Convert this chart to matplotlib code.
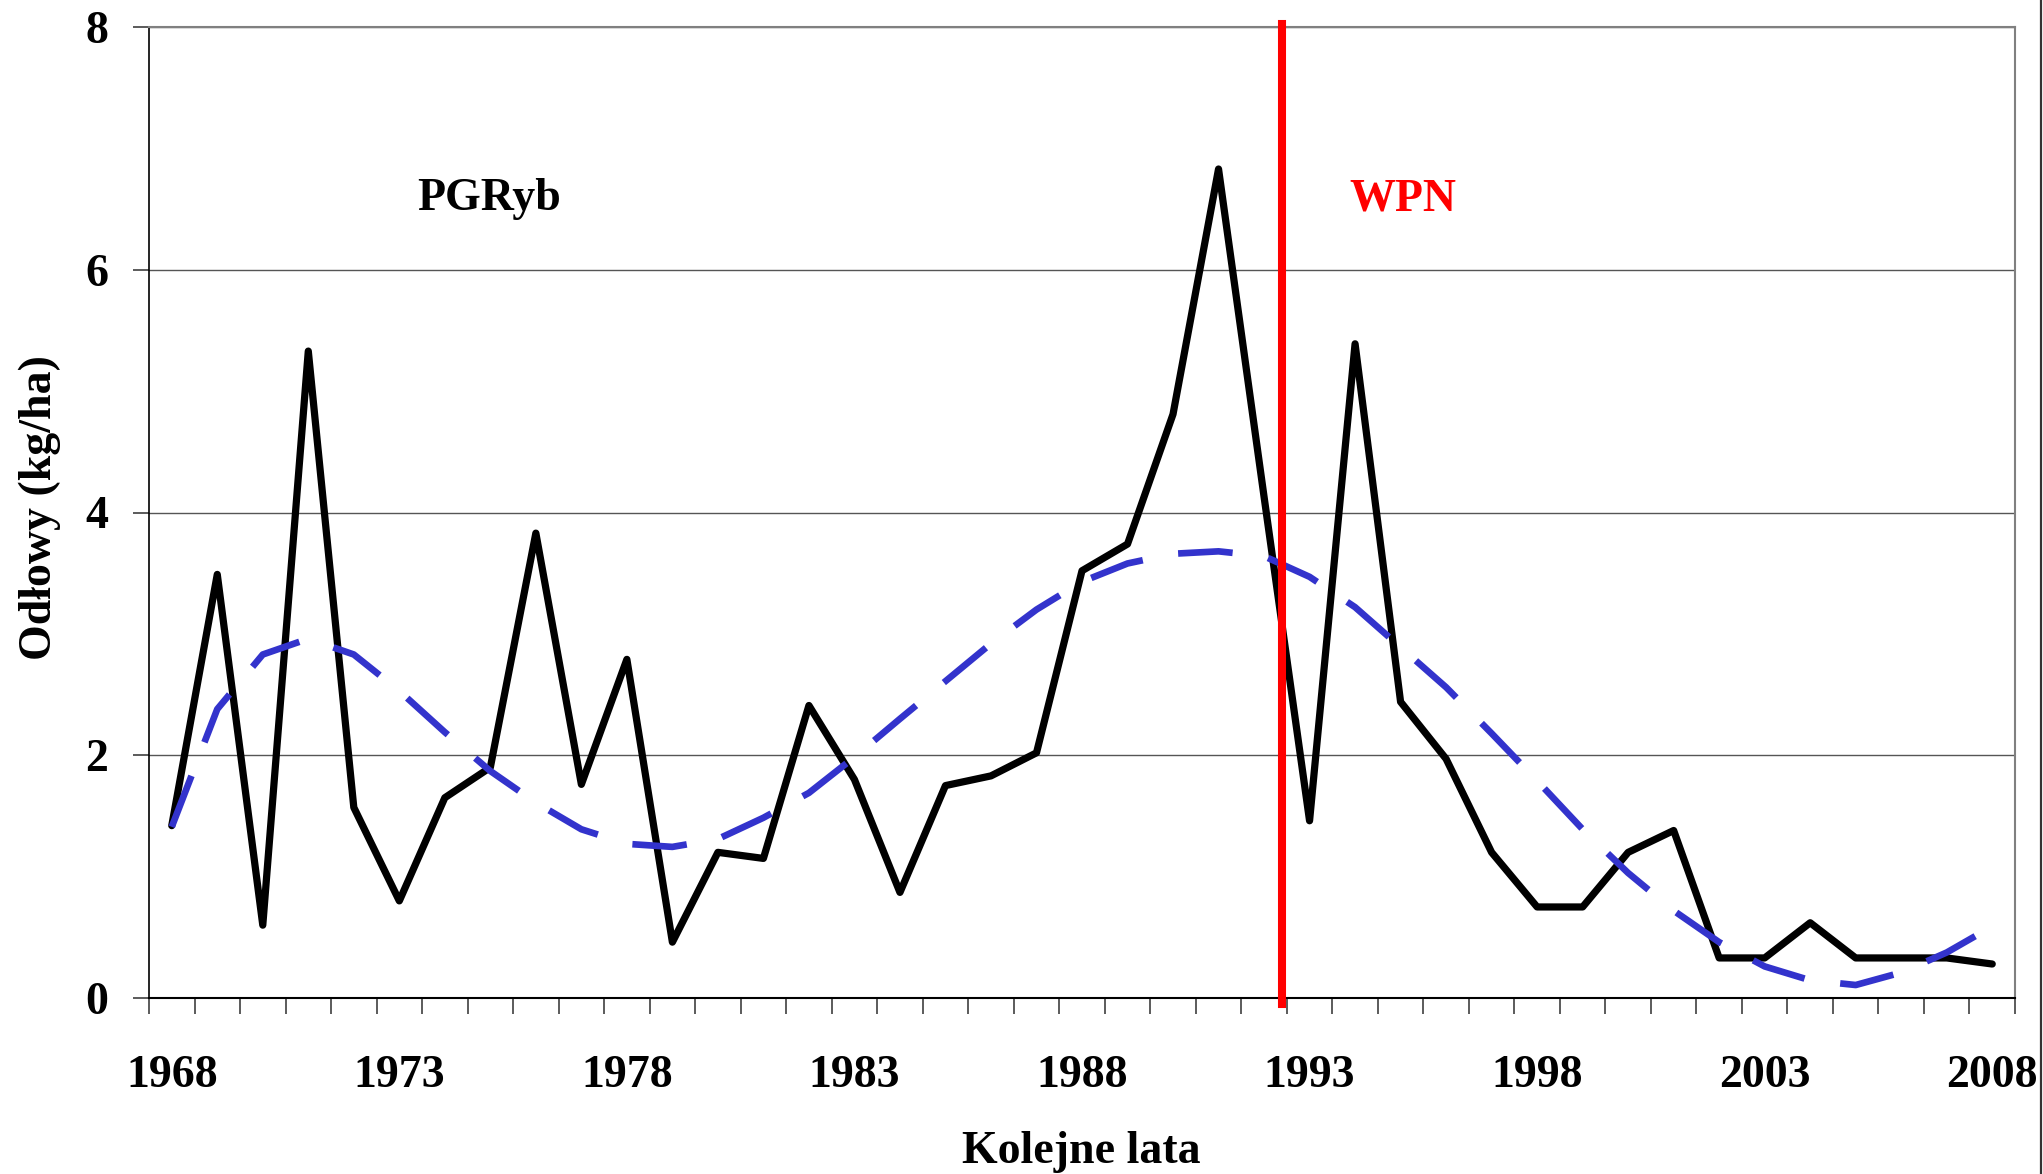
import matplotlib
matplotlib.use("Agg")
import matplotlib.pyplot as plt
from matplotlib.lines import Line2D
import numpy as np

# Data
years = np.arange(1968, 2009)
catch = [1.42, 3.49, 0.60, 5.33, 1.57, 0.80, 1.65, 1.90, 3.83, 1.76,
         2.79, 0.46, 1.20, 1.15, 2.41, 1.80, 0.87, 1.75, 1.83, 2.02,
         3.52, 3.74, 4.81, 6.83, 4.13, 1.46, 5.39, 2.44, 1.97, 1.20,
         0.75, 0.75, 1.20, 1.38, 0.33, 0.33, 0.62, 0.33, 0.33, 0.33, 0.28]
trend = [1.41, 2.38, 2.83, 2.96, 2.83, 2.53, 2.19, 1.87, 1.61, 1.39,
         1.27, 1.245, 1.31, 1.485, 1.69, 1.985, 2.30, 2.61, 2.92, 3.20,
         3.43, 3.58, 3.66, 3.68, 3.64, 3.47, 3.22, 2.89, 2.56, 2.18,
         1.79, 1.39, 1.03, 0.72, 0.46, 0.26, 0.146, 0.107, 0.21, 0.375, 0.59]
tick_years = [1968, 1973, 1978, 1983, 1988, 1993, 1998, 2003, 2008]
tick_labels = ['1968', '1973', '1978', '1983', '1988', '1993', '1998', '2003', '2008']
wpn_year = 1992.39

plt.rcParams['font.family'] = ['Liberation Serif', 'DejaVu Serif']
plt.rcParams['font.weight'] = 'bold'

W, H = 2043, 1174
fig = plt.figure(figsize=(W / 100, H / 100), dpi=100)
# plot area in pixels: left 149, right 2015, top 27, bottom 998
ax = fig.add_axes([149 / W, (H - 998) / H, 1866 / W, 971 / H])

ax.plot(years, catch, color='black', lw=5.2, solid_joinstyle='round',
        solid_capstyle='round', zorder=3)
ax.plot(years, trend, color='#3333CC', lw=4.8, dashes=(8.2, 5.4),
        dash_capstyle='butt', zorder=4)
ax.axvline(wpn_year, ymin=-0.006, ymax=1.003, color='#FF0000', lw=5.8,
           clip_on=False, zorder=5)

ax.text(1974.98, 6.49, 'PGRyb', fontsize=33, fontweight='bold',
        ha='center', va='baseline', color='black')
ax.text(1995.04, 6.49, 'WPN', fontsize=33, fontweight='bold',
        ha='center', va='baseline', color='#FF0000')

ax.set_xlim(1967.5, 2008.5)
ax.set_ylim(0, 8)
ax.set_yticks([0, 2, 4, 6, 8])
ax.set_xticks(tick_years)
ax.set_xticklabels(tick_labels)
ax.set_xticks(np.arange(1967.5, 2009.0, 1.0), minor=True)

ax.tick_params(axis='x', which='major', length=0, pad=41, labelsize=33)
ax.tick_params(axis='x', which='minor', length=11.5, width=1.2,
               color='#404040', direction='out')
ax.tick_params(axis='y', which='major', length=11.5, width=1.2,
               color='#404040', direction='out', pad=18, labelsize=33)
for lab in ax.get_xticklabels() + ax.get_yticklabels():
    lab.set_fontweight('bold')

ax.yaxis.grid(True, color='#555555', lw=1.0, zorder=0)
ax.set_axisbelow(True)
ax.spines['left'].set_color('black')
ax.spines['bottom'].set_color('black')
ax.spines['left'].set_linewidth(1.2)
ax.spines['bottom'].set_linewidth(1.5)
ax.spines['top'].set_color('#808080')
ax.spines['right'].set_color('#808080')
ax.spines['top'].set_linewidth(1.5)
ax.spines['right'].set_linewidth(1.5)

fig.text(1081 / W, (H - 1163) / H, 'Kolejne lata', fontsize=33,
         fontweight='bold', ha='center', va='baseline')
fig.text(51 / W, (H - 508) / H, 'Odłowy (kg/ha)', fontsize=33,
         fontweight='bold', ha='center', va='baseline', rotation=90,
         rotation_mode='anchor')

# chart border on the right edge
fig.add_artist(Line2D([2040.5 / W, 2040.5 / W], [0, 1], color='#333333',
                      lw=1.6, transform=fig.transFigure))

fig.savefig('out.png', dpi=100, facecolor='white')
